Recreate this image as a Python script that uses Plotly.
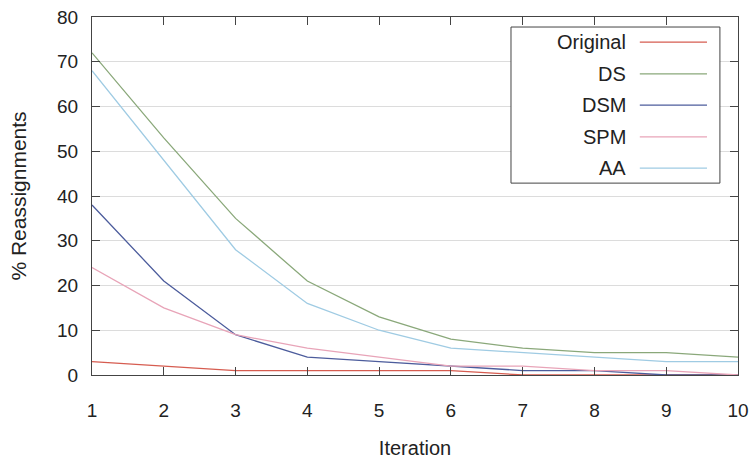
import plotly.graph_objects as go

iterations = [1, 2, 3, 4, 5, 6, 7, 8, 9, 10]
series_names = ["Original", "DS", "DSM", "SPM", "AA"]
original = [3, 2, 1, 1, 1, 1, 0, 0, 0, 0]
ds = [72, 53, 35, 21, 13, 8, 6, 5, 5, 4]
dsm = [38, 21, 9, 4, 3, 2, 1, 1, 0, 0]
spm = [24, 15, 9, 6, 4, 2, 2, 1, 1, 0]
aa = [68, 48, 28, 16, 10, 6, 5, 4, 3, 3]
y_ticks = [0, 10, 20, 30, 40, 50, 60, 70, 80]

series_values = [original, ds, dsm, spm, aa]
colors = ["#d65c50", "#8aa87a", "#4c5c9c", "#e8a4b8", "#9fcbe3"]

FONT = "Liberation Sans, Arial, Helvetica, sans-serif"

fig = go.Figure()
for name, vals, col in zip(series_names, series_values, colors):
    fig.add_trace(go.Scatter(x=iterations, y=vals, mode="lines", name=name,
                             line=dict(color=col, width=1.3), showlegend=False))

# manual gnuplot-style legend (text right-aligned, sample line on right)
lx0, lx1 = 0.6486, 0.972
ly0, ly1 = 0.536, 0.972
fig.add_shape(type="rect", xref="paper", yref="paper", x0=lx0, x1=lx1, y0=ly0, y1=ly1,
              line=dict(color="#444", width=1), fillcolor="white", layer="above")
entry_y = [0.930, 0.841, 0.754, 0.665, 0.578]
for name, col, ey in zip(series_names, colors, entry_y):
    fig.add_annotation(xref="paper", yref="paper", x=0.830, y=ey, text=name,
                       showarrow=False, xanchor="right", yanchor="middle",
                       font=dict(family=FONT, size=20, color="#222"))
    fig.add_shape(type="line", xref="paper", yref="paper", x0=0.848, x1=0.952, y0=ey, y1=ey,
                  line=dict(color=col, width=1.3), layer="above")

fig.update_layout(
    width=750, height=461,
    margin=dict(l=92, r=12, t=17, b=86),
    paper_bgcolor="white", plot_bgcolor="white",
    font=dict(family=FONT, size=19, color="#222"),
    xaxis=dict(range=[1, 10], tickvals=iterations, ticks="inside", ticklen=8,
               tickcolor="#444", showline=True, linecolor="#444", linewidth=1,
               mirror="ticks", showgrid=False, zeroline=False, automargin=False,
               ticklabelstandoff=18,
               title=dict(text="Iteration", standoff=21, font=dict(size=20))),
    yaxis=dict(range=[0, 80], tickvals=y_ticks, ticks="inside", ticklen=8,
               tickcolor="#444", showline=True, linecolor="#444", linewidth=1,
               mirror="ticks", showgrid=True, gridcolor="#dcdcdc", gridwidth=1,
               zeroline=False, automargin=False, ticklabelstandoff=9,
               title=dict(text="% Reassignments", standoff=24, font=dict(size=21))),
)

fig.write_html("out.html")
